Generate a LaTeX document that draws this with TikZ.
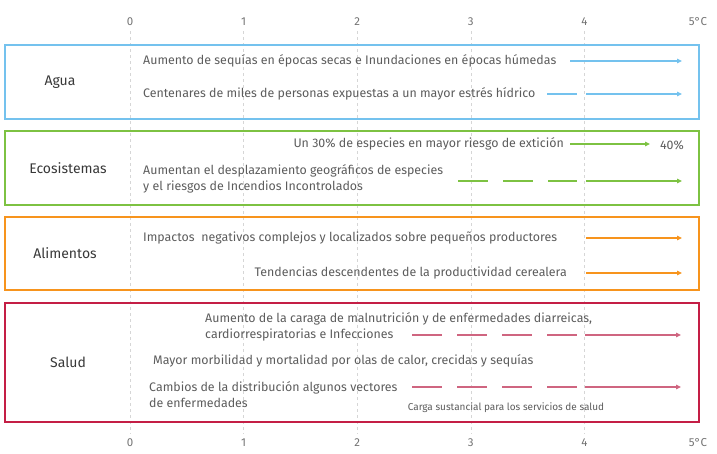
\documentclass[tikz,border=0pt]{standalone}
\usepackage{fontspec}
\setmainfont{Fira Sans}
\usepackage{tikz}
\usetikzlibrary{arrows.meta,positioning,calc}

\definecolor{aguac}{HTML}{74C2EE}
\definecolor{ecoc}{HTML}{7DC242}
\definecolor{alimc}{HTML}{F7941D}
\definecolor{saludc}{HTML}{C41E45}
\definecolor{saludarr}{HTML}{CF6580}
\definecolor{txtgray}{HTML}{5C5C5C}
\definecolor{gridgray}{HTML}{D6D6D6}

\begin{document}
\begin{tikzpicture}[x=1pt, y=-1pt,
    sect/.style={draw=#1, line width=2pt, minimum width=694pt, anchor=north west, inner sep=0pt},
    cat/.style={font=\fontsize{14}{16}\selectfont, text=black!78},
    item/.style={font=\fontsize{12.4}{16}\selectfont, text=txtgray, inner sep=0pt, align=left},
    small/.style={font=\fontsize{10}{11}\selectfont, text=txtgray, inner sep=0pt},
    tick/.style={font=\fontsize{11.5}{13}\selectfont, text=black!55, inner sep=5pt},
    grid/.style={gridgray, dashed, line width=0.6pt},
    arr/.style={-{Triangle[length=5pt, width=4.5pt]}, line width=1.2pt},
    dsh/.style={line width=1.2pt, dash pattern=on 30pt off 15pt}
  ]
    \useasboundingbox (0,0) rectangle (717,454);

    % temperature axis, top and bottom
    \foreach \t in {0,...,4} {
      \node[tick] (t\t) at ({130+113.6*\t},22) {\t};
      \node[tick] (b\t) at ({130+113.6*\t},443) {\t};
      \draw[grid] (t\t.south) -- (b\t.north);
    }
    \node[tick] (t5) at (698,22) {5°C};
    \node[tick] (b5) at (698,443) {5°C};

    % sections
    \node[sect=aguac, minimum height=74pt] (agua) at (4,44) {};
    \node[sect=ecoc, minimum height=74pt] (eco) at (4,130) {};
    \node[sect=alimc, minimum height=73pt] (alim) at (4,216) {};
    \node[sect=saludc, minimum height=119pt] (salud) at (4,302) {};

    \node[cat] (lagua) at ($(agua.west)+(56,0)$) {Agua};
    \node[cat] (leco) at ($(eco.west)+(64,0)$) {Ecosistemas};
    \node[cat] (lalim) at ($(alim.west)+(61,0)$) {Alimentos};
    \node[cat] (lsalud) at ($(salud.west)+(64,0)$) {Salud};

    % Agua
    \node[item, anchor=west] (a1) at (143,61)
      {Aumento de sequías en épocas secas e Inundaciones en épocas húmedas};
    \node[item, anchor=west] (a2) at (143,94)
      {Centenares de miles de personas expuestas a un mayor estrés hídrico};
    \coordinate (a1s) at (570,61);
    \coordinate (a1e) at (682,61);
    \coordinate (a2s) at (547,94);
    \coordinate (a2m) at (578,94);
    \coordinate (a2n) at (586,94);
    \coordinate (a2e) at (682,94);
    \draw[arr, aguac] (a1s) -- (a1e);
    \draw[dsh, aguac] (a2s) -- (a2m);
    \draw[arr, aguac] (a2n) -- (a2e);

    % Ecosistemas
    \node[item, anchor=east] (e1) at (564,144)
      {Un 30\% de especies en mayor riesgo de extición};
    \node[item] (e1v) at (672,145) {40\%};
    \node[item, anchor=west] (e2) at (143,179)
      {Aumentan el desplazamiento geográficos de especies\\y el riesgos de Incendios Incontrolados};
    \coordinate (e1s) at (570,144);
    \coordinate (e1e) at (650,144);
    \coordinate (e2s) at (458,181);
    \coordinate (e2m) at (577,181);
    \coordinate (e2n) at (586,181);
    \coordinate (e2e) at (682,181);
    \draw[arr, ecoc] (e1s) -- (e1e);
    \draw[dsh, ecoc] (e2s) -- (e2m);
    \draw[arr, ecoc] (e2n) -- (e2e);

    % Alimentos
    \node[item, anchor=west] (l1) at (143,238)
      {Impactos\ \ negativos complejos y localizados sobre pequeños productores};
    \node[item, anchor=east] (l2) at (567,273)
      {Tendencias descendentes de la productividad cerealera};
    \coordinate (l1s) at (586,238);
    \coordinate (l1e) at (682,238);
    \coordinate (l2s) at (586,273);
    \coordinate (l2e) at (682,273);
    \draw[arr, alimc] (l1s) -- (l1e);
    \draw[arr, alimc] (l2s) -- (l2e);

    % Salud
    \node[item, anchor=west] (s1) at (205,327)
      {Aumento de la caraga de malnutrición y de enfermedades diarreicas,\\cardiorrespiratorias e Infecciones};
    \node[item, anchor=west] (s2) at (153,361)
      {Mayor morbilidad y mortalidad por olas de calor, crecidas y sequías};
    \node[item, anchor=west] (s3) at (149,395)
      {Cambios de la distribución algunos vectores\\de enfermedades};
    \node[small] (carga) at (506,408) {Carga sustancial para los servicios de salud};
    \coordinate (s1s) at (412,335);
    \coordinate (s1m) at (577,335);
    \coordinate (s1n) at (585,335);
    \coordinate (s1e) at (681,335);
    \coordinate (s3s) at (412,387);
    \coordinate (s3m) at (577,387);
    \coordinate (s3n) at (585,387);
    \coordinate (s3e) at (681,387);
    \draw[dsh, saludarr] (s1s) -- (s1m);
    \draw[arr, saludarr] (s1n) -- (s1e);
    \draw[dsh, saludarr] (s3s) -- (s3m);
    \draw[arr, saludarr] (s3n) -- (s3e);
\end{tikzpicture}
\end{document}
